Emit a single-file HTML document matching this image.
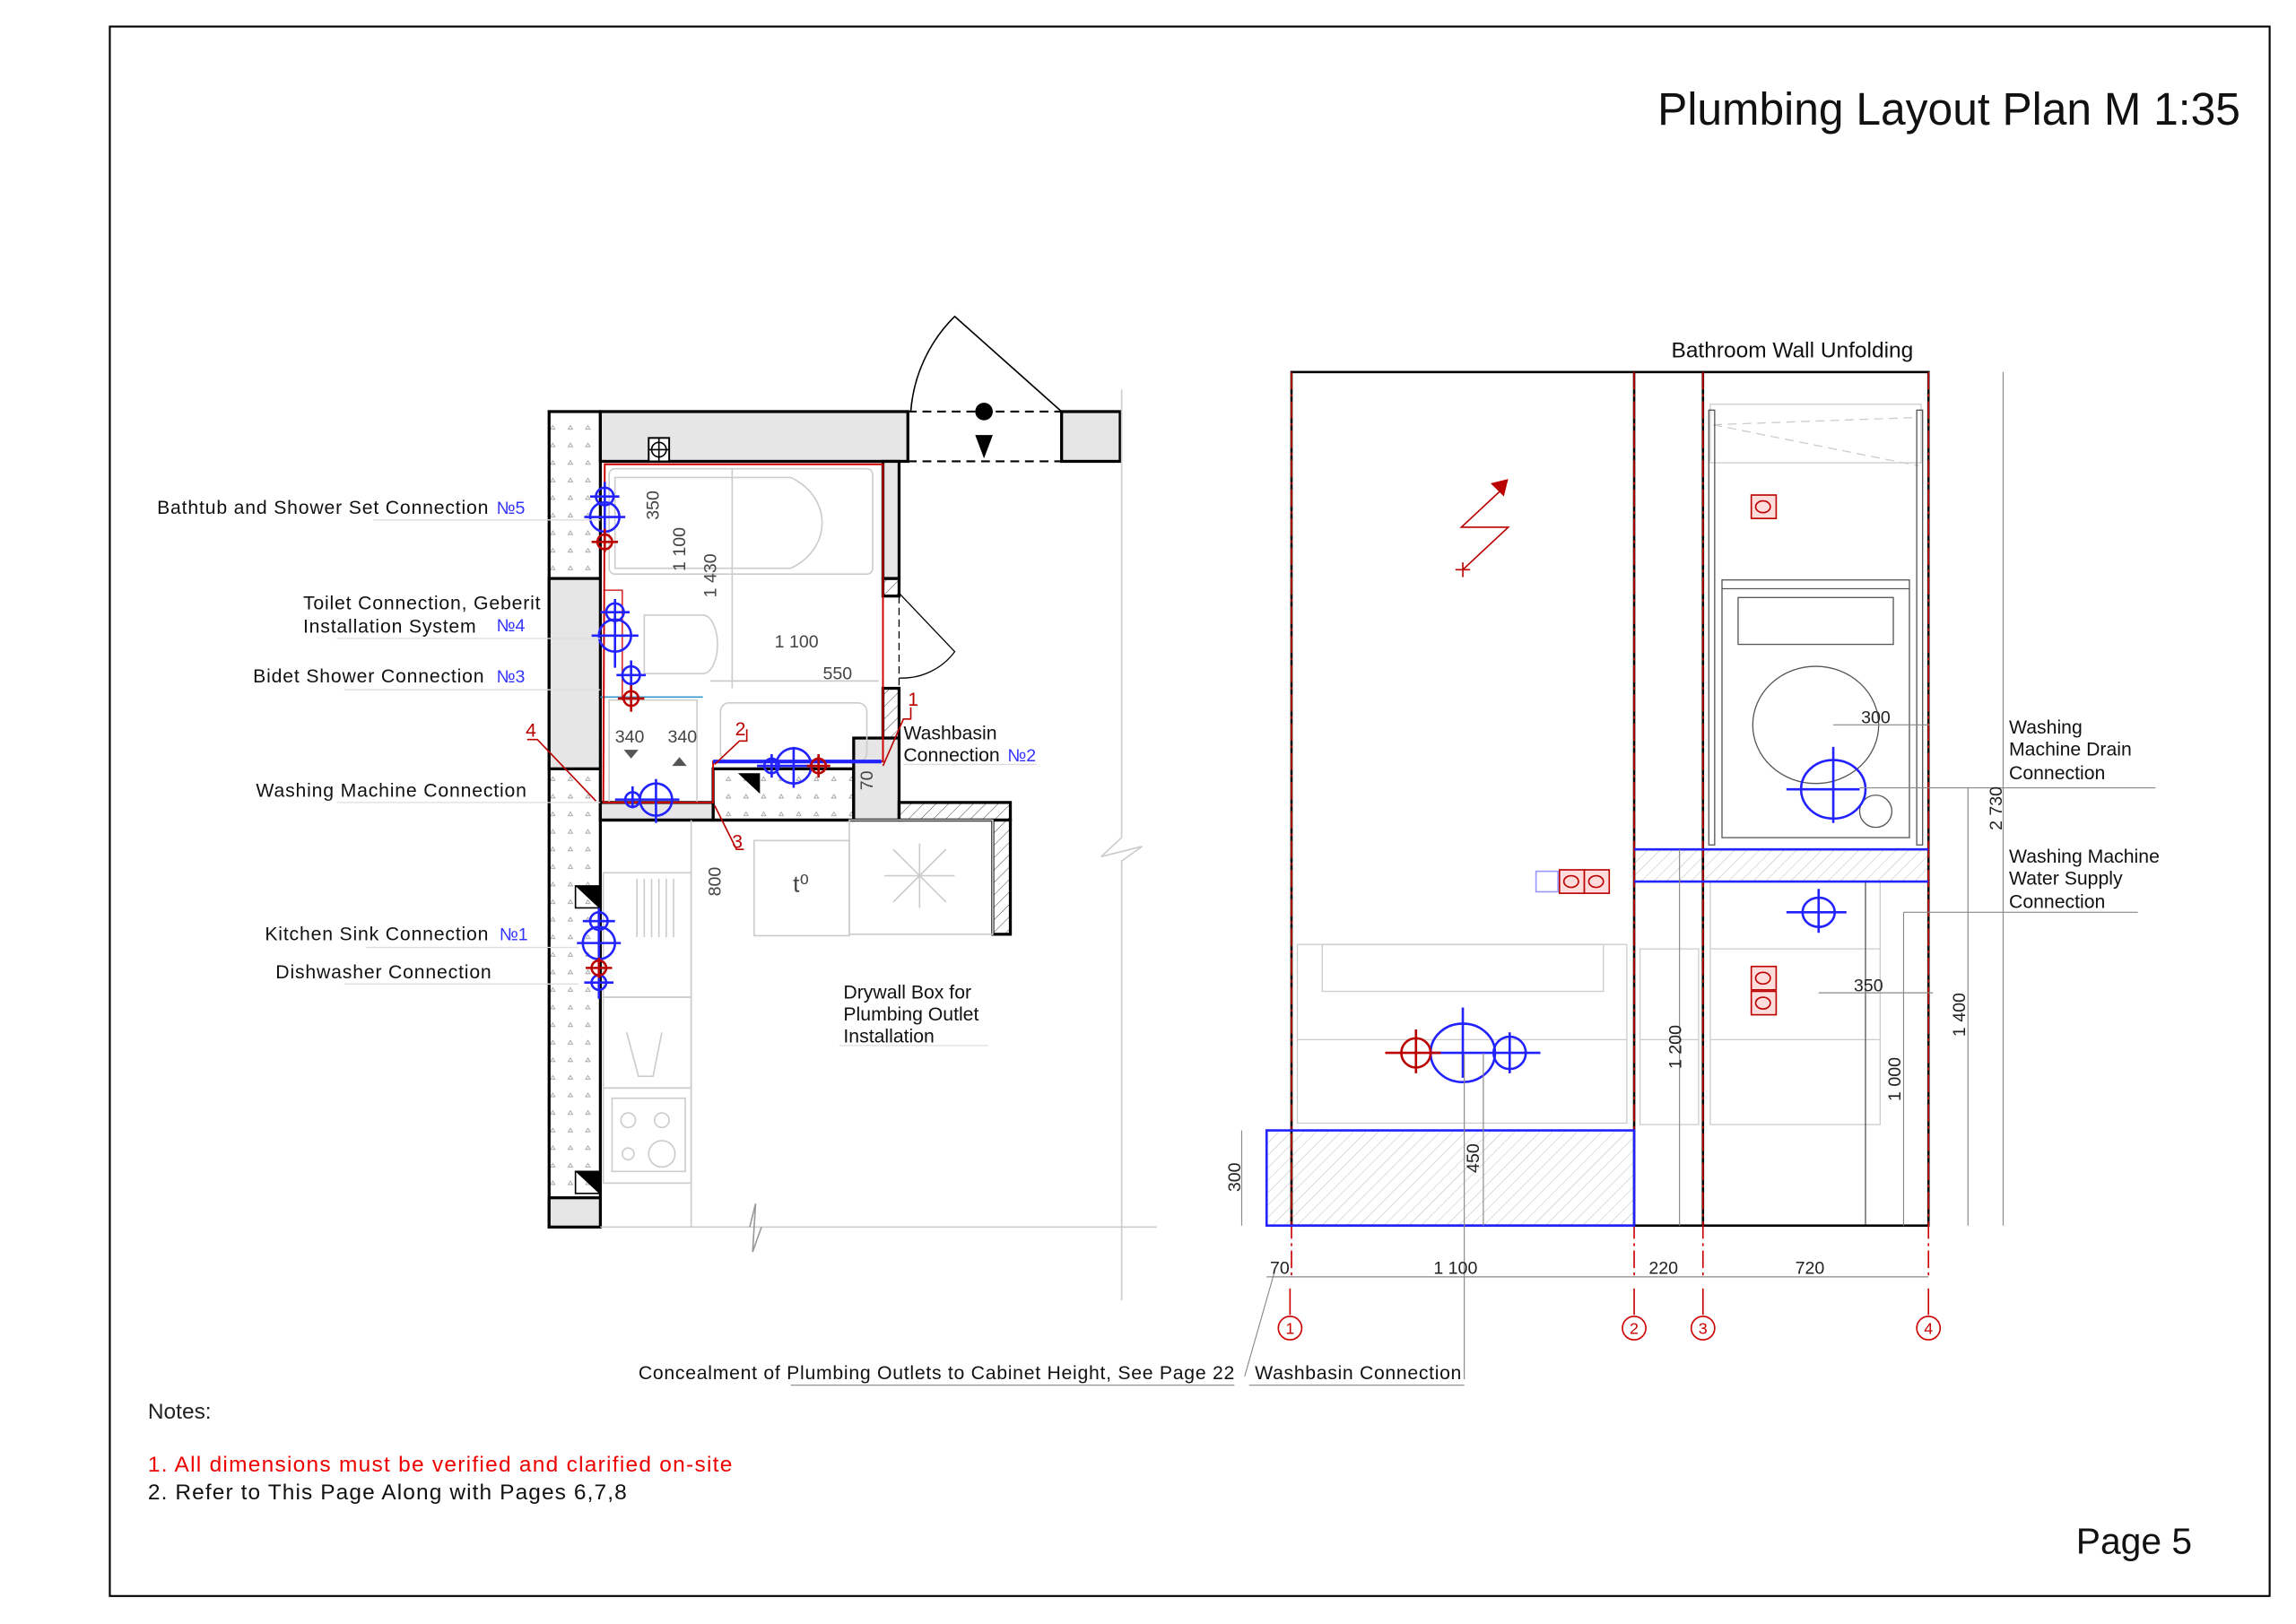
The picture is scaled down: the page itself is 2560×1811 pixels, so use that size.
<!DOCTYPE html>
<html><head><meta charset="utf-8"><style>
html,body{margin:0;padding:0;background:#fff;width:2560px;height:1811px;overflow:hidden}
svg{display:block}
text{font-family:"Liberation Sans","DejaVu Sans",sans-serif}
</style></head><body>
<svg width="2560" height="1811" viewBox="0 0 1568 1109" xmlns="http://www.w3.org/2000/svg">
<defs>
<pattern id="dots" width="12" height="12" patternUnits="userSpaceOnUse"><rect width="12" height="12" fill="#fff"/><path d="M4 5 l1.5 -2.5 l1.5 2.5z" fill="none" stroke="#999" stroke-width="0.5"/></pattern>
<pattern id="hatch" width="6" height="6" patternUnits="userSpaceOnUse" patternTransform="rotate(45)"><line x1="0" y1="0" x2="0" y2="6" stroke="#444" stroke-width="0.6"/></pattern>
<pattern id="hatchb" width="6" height="6" patternUnits="userSpaceOnUse" patternTransform="rotate(45)"><line x1="0" y1="0" x2="0" y2="6" stroke="#aab" stroke-width="0.5"/></pattern>
</defs>
<rect x="75" y="18" width="1475" height="1072" fill="none" stroke="#000" stroke-width="1.3"/>
<text x="1530" y="85" font-size="31" text-anchor="end" fill="#111" textLength="398" lengthAdjust="spacingAndGlyphs">Plumbing Layout Plan M 1:35</text>

<!-- ===== FLOOR PLAN ===== -->
<g stroke="#000" stroke-width="2">
<rect x="375" y="281" width="35" height="557" fill="url(#dots)"/>
<rect x="375" y="395" width="35" height="130" fill="#e6e6e6"/>
<rect x="375" y="818" width="35" height="20" fill="#e6e6e6"/>
<rect x="410" y="281" width="210" height="34" fill="#e6e6e6"/>
<rect x="603" y="315" width="11" height="80" fill="#e6e6e6"/>
<rect x="603" y="395" width="11" height="12" fill="url(#hatch)"/>
<rect x="603" y="470" width="11" height="34" fill="url(#hatch)"/>
<rect x="725" y="281" width="40" height="34" fill="#e6e6e6"/>
<rect x="487" y="525" width="96" height="35" fill="url(#dots)"/>
<rect x="583" y="504" width="31" height="56" fill="#e6e6e6"/>
<rect x="410" y="548" width="77" height="12" fill="#e6e6e6"/>
<rect x="614" y="548" width="76" height="12" fill="url(#hatch)"/>
<rect x="678" y="560" width="12" height="78" fill="url(#hatch)"/>
<line x1="410" y1="560" x2="678" y2="560"/>
</g>
<rect x="443" y="299" width="14" height="16" fill="#fff" stroke="#000" stroke-width="1.2"/>
<circle cx="450" cy="307" r="5" fill="none" stroke="#000"/><path d="M443 307h14M450 299v16" stroke="#000"/>
<!-- door top -->
<path d="M622 281 A102 102 0 0 1 652 216 L725 281" fill="none" stroke="#000" stroke-width="1"/>
<path d="M620 281H725M620 315H725" stroke="#000" stroke-width="1.3" stroke-dasharray="6,4"/>
<circle cx="672" cy="281" r="6" fill="#000"/><path d="M666 297h12l-6 16z" fill="#000"/>
<!-- side door -->
<path d="M603 407v63M614 407v63" stroke="#000" stroke-dasharray="5,3" stroke-width="0.8"/>
<path d="M614 405 L652 445 A45 45 0 0 1 614 463" fill="none" stroke="#000" stroke-width="0.8"/>
<!-- bath fixtures -->
<g fill="none" stroke="#ccc" stroke-width="1">
<path d="M420 326h120a40 35 0 0 1 0 62h-120z"/>
<rect x="416" y="320" width="180" height="72" rx="4"/>
<path d="M440 420h40a10 20 0 0 1 0 40h-40z"/>
<rect x="492" y="480" width="100" height="40" rx="6"/>
<rect x="416" y="478" width="60" height="70"/>
<path d="M410 476h70" stroke="#39c"/>
<line x1="500" y1="320" x2="500" y2="470"/><line x1="485" y1="465" x2="600" y2="465"/>
<rect x="412" y="596" width="60" height="85"/><rect x="412" y="681" width="60" height="62"/><rect x="412" y="743" width="60" height="65"/>
<rect x="418" y="750" width="50" height="50"/>
<circle cx="429" cy="765" r="5"/><circle cx="452" cy="765" r="5"/><circle cx="429" cy="788" r="4"/><circle cx="452" cy="788" r="9"/>
<path d="M428 705l8 30h10l6-30"/>
<rect x="515" y="574" width="65" height="65"/><rect x="580" y="560" width="98" height="78"/>
<path d="M610 580l36 36M646 580l-36 36M628 576v44M604 598h48"/>
<line x1="472" y1="560" x2="472" y2="838"/>
<line x1="410" y1="838" x2="790" y2="838"/>
<path d="M766 266V572L752 585L780 578L766 588V888"/>
</g>
<path d="M512 838 L516 822 L514 855 L520 838" fill="none" stroke="#999"/>
<g stroke="#ccc"><path d="M435 600v40M440 600v40M445 600v40M450 600v40M455 600v40M460 600v40"/></g>
<text x="547" y="609" font-size="16" fill="#444" text-anchor="middle">t⁰</text>
<path d="M393 605h16v15z" fill="#000"/><rect x="393" y="605" width="16" height="15" fill="none" stroke="#000"/>
<path d="M393 800h16v15z" fill="#000"/><rect x="393" y="800" width="16" height="15" fill="none" stroke="#000"/>
<path d="M504 528h15v14z" fill="#000"/>
<path d="M413 317H603V520H487V548H412Z" fill="none" stroke="#c00" stroke-width="1.2"/>
<path d="M412 403h13v75" fill="none" stroke="#c00" stroke-width="0.8"/>
<line x1="487" y1="520" x2="602" y2="520" stroke="#22f" stroke-width="2.5"/>
<g font-size="12" fill="#444">
<text transform="translate(450 345) rotate(-90)" text-anchor="middle">350</text>
<text transform="translate(468 375) rotate(-90)" text-anchor="middle">1 100</text>
<text transform="translate(489 393) rotate(-90)" text-anchor="middle">1 430</text>
<text x="544" y="442" text-anchor="middle">1 100</text>
<text x="572" y="464" text-anchor="middle">550</text>
<text x="430" y="507" text-anchor="middle">340</text><text x="466" y="507" text-anchor="middle">340</text>
<text transform="translate(596 533) rotate(-90)" text-anchor="middle">70</text>
<text transform="translate(492 602) rotate(-90)" text-anchor="middle">800</text>
</g>
<path d="M426 512h10l-5 6z M459 523h10l-5 -6z" fill="#555"/>
<g fill="none" stroke-width="1.6">
<g stroke="#22f">
<circle cx="413" cy="339" r="6"/><path d="M403 339h20M413 329v20"/>
<circle cx="413" cy="353" r="10"/><path d="M399 353h28M413 340v26"/>
<circle cx="420" cy="418" r="6"/><path d="M410 418h20M420 409v18"/>
<circle cx="420" cy="434" r="11"/><path d="M404 434h32M420 420v36"/>
<circle cx="431" cy="461" r="6"/><path d="M421 461h20M431 451v20"/>
<circle cx="432" cy="546" r="5"/><circle cx="448" cy="546" r="11"/><path d="M420 546h44M432 537v15M448 532v30"/>
<circle cx="527" cy="523" r="5"/><circle cx="542" cy="523" r="12"/><path d="M517 523h40M527 515v16M542 510v28"/>
<circle cx="409" cy="629" r="6"/><path d="M398 629h22M409 620v18"/>
<circle cx="409" cy="644" r="11"/><path d="M394 644h30M409 630v28"/>
<circle cx="409" cy="671" r="5"/><path d="M399 671h20M409 664v18"/>
</g>
<g stroke="#b00">
<circle cx="413" cy="370" r="5"/><path d="M404 370h18M413 361v16"/>
<circle cx="431" cy="477" r="5"/><path d="M422 477h18M431 468v18"/>
<circle cx="559" cy="523" r="5"/><path d="M551 523h16M559 515v16"/>
<circle cx="409" cy="661" r="5"/><path d="M400 661h18M409 654v14"/>
</g>
</g>
<g stroke="#b00" fill="none" stroke-width="1">
<path d="M622 483v8h-5l-14 32"/><path d="M510 498v8h-5l-17 16"/><path d="M508 580h-5l-15 -30"/><path d="M360 505h7l40 42"/>
</g>
<g fill="#b00" font-size="13"><text x="620" y="482">1</text><text x="502" y="502">2</text><text x="500" y="579">3</text><text x="359" y="503">4</text></g>
<g font-size="13" fill="#111" letter-spacing="0.5">
<text x="334" y="351" text-anchor="end">Bathtub and Shower Set Connection</text>
<text x="207" y="416">Toilet Connection, Geberit</text>
<text x="207" y="432">Installation System</text>
<text x="331" y="466" text-anchor="end">Bidet Shower Connection</text>
<text x="360" y="544" text-anchor="end">Washing Machine Connection</text>
<text x="334" y="642" text-anchor="end">Kitchen Sink Connection</text>
<text x="336" y="668" text-anchor="end">Dishwasher Connection</text>
</g>
<g font-size="12" fill="#33f"><text x="339" y="351">№5</text><text x="339" y="431">№4</text><text x="339" y="466">№3</text><text x="341" y="642">№1</text><text x="688" y="520">№2</text></g>
<g stroke="#ddd" stroke-width="0.8"><path d="M255 355H410M230 436H410M235 471H410M230 548H410M250 647H395M235 672H395M617 522H708M573 714H675"/></g>
<g font-size="13" fill="#111"><text x="617" y="505">Washbasin</text><text x="617" y="520">Connection</text>
<text x="576" y="682">Drywall Box for</text><text x="576" y="697">Plumbing Outlet</text><text x="576" y="712">Installation</text></g>

<!-- ===== ELEVATION ===== -->
<text x="1224" y="244" font-size="15" fill="#111" text-anchor="middle">Bathroom Wall Unfolding</text>
<rect x="865" y="772" width="251" height="65" fill="url(#hatchb)"/>
<rect x="1116" y="580" width="201" height="22" fill="url(#hatchb)"/>
<g fill="none" stroke="#ccc" stroke-width="0.8">
<rect x="886" y="645" width="225" height="122"/><rect x="903" y="645" width="192" height="32"/><path d="M886 710h225"/>
<rect x="1120" y="648" width="40" height="120"/><path d="M1120 710h40"/>
<rect x="1168" y="602" width="116" height="166"/><path d="M1168 648h116M1168 710h116"/>
<rect x="1168" y="276" width="144" height="40"/><path d="M1170 290L1310 285M1170 290L1310 318" stroke-dasharray="6,4"/>
</g>
<g fill="none" stroke="#555" stroke-width="0.8">
<rect x="1176" y="396" width="128" height="176"/><rect x="1187" y="408" width="106" height="32"/><path d="M1176 402h128"/>
<ellipse cx="1240" cy="495" rx="43" ry="40"/><circle cx="1281" cy="554" r="11"/>
<rect x="1167" y="280" width="4" height="297"/><rect x="1309" y="280" width="4" height="297"/>
<path d="M1274 602v235"/>
</g>
<g stroke="#000" stroke-width="1.6" fill="none">
<rect x="882" y="254" width="435" height="583"/><path d="M1116 254v583M1163 254v583"/>
</g>
<g stroke="#c00" stroke-width="1" stroke-dasharray="12,3,2,3"><path d="M882 254v620M1116 254v620M1163 254v620M1317 254v620"/></g>
<g stroke="#c00" stroke-width="1"><path d="M881 880v18M1116 880v18M1163 880v18M1317 880v18"/></g>
<g stroke="#22f" stroke-width="1.6" fill="none">
<path d="M865 772H1116V837H865Z"/><path d="M1116 580H1317M1116 602H1317"/>
</g>
<g fill="none" stroke-width="1.6">
<g stroke="#22f">
<ellipse cx="999" cy="719" rx="22" ry="20"/><path d="M977 719h75M999 688v48"/>
<circle cx="1031" cy="719" r="11"/><path d="M1031 705v28"/>
<ellipse cx="1252" cy="539" rx="22" ry="20"/><path d="M1220 539h50M1252 510v52"/>
<ellipse cx="1242" cy="623" rx="11" ry="10"/><path d="M1220 623h41M1242 607v30"/>
</g>
<g stroke="#b00"><circle cx="967" cy="719" r="10"/><path d="M946 719h38M967 703v30"/></g>
</g>
<path d="M994 389h10M999 384v10M999 389L1030 360H998L1028 332" fill="none" stroke="#b00"/>
<path d="M1018 330l12-3l-3 12z" fill="#b00"/>
<g fill="none" stroke="#b00"><rect x="1065" y="594" width="17" height="16" fill="#fdd"/><rect x="1082" y="594" width="17" height="16" fill="#fdd"/>
<rect x="1196" y="338" width="17" height="16" fill="#fdd"/><rect x="1196" y="660" width="17" height="16" fill="#fdd"/><rect x="1196" y="677" width="17" height="16" fill="#fdd"/>
<ellipse cx="1073" cy="602" rx="5" ry="4"/><ellipse cx="1090" cy="602" rx="5" ry="4"/><ellipse cx="1204" cy="346" rx="5" ry="4"/><ellipse cx="1204" cy="668" rx="5" ry="4"/><ellipse cx="1204" cy="685" rx="5" ry="4"/></g>
<rect x="1049" y="595" width="15" height="14" fill="none" stroke="#99f"/>
<g stroke="#888" stroke-width="0.7" fill="none">
<path d="M848 772v65M1368 254v583M1344 538v299M1300 623v214M1147 580v257M1013 719v118M865 872H1317"/>
<path d="M1252 495H1318M1242 678H1320M1300 623H1460M1270 538H1472"/>
<path d="M870 870 L850 940M1000 720v222M853 946H1000M540 946H843"/>
</g>
<g font-size="12" fill="#222">
<text x="1281" y="494" text-anchor="middle">300</text><text x="1276" y="677" text-anchor="middle">350</text>
<text transform="translate(1367 552) rotate(-90)" text-anchor="middle">2 730</text>
<text transform="translate(1342 693) rotate(-90)" text-anchor="middle">1 400</text>
<text transform="translate(1298 737) rotate(-90)" text-anchor="middle">1 000</text>
<text transform="translate(1148 715) rotate(-90)" text-anchor="middle">1 200</text>
<text transform="translate(1010 791) rotate(-90)" text-anchor="middle">450</text>
<text transform="translate(847 804) rotate(-90)" text-anchor="middle">300</text>
<text x="874" y="870" text-anchor="middle">70</text><text x="994" y="870" text-anchor="middle">1 100</text>
<text x="1136" y="870" text-anchor="middle">220</text><text x="1236" y="870" text-anchor="middle">720</text>
</g>
<g stroke="#c00" fill="none"><circle cx="881" cy="907" r="8"/><circle cx="1116" cy="907" r="8"/><circle cx="1163" cy="907" r="8"/><circle cx="1317" cy="907" r="8"/></g>
<g font-size="11" fill="#c00" text-anchor="middle"><text x="881" y="911">1</text><text x="1116" y="911">2</text><text x="1163" y="911">3</text><text x="1317" y="911">4</text></g>
<g font-size="13" fill="#111">
<text x="1372" y="501">Washing</text><text x="1372" y="516">Machine Drain</text><text x="1372" y="532">Connection</text>
<text x="1372" y="589">Washing Machine</text><text x="1372" y="604">Water Supply</text><text x="1372" y="620">Connection</text>
<text x="843" y="942" text-anchor="end" textLength="407" lengthAdjust="spacing">Concealment of Plumbing Outlets to Cabinet Height, See Page 22</text>
<text x="857" y="942" textLength="141" lengthAdjust="spacing">Washbasin Connection</text>
</g>
<text x="101" y="969" font-size="15" fill="#222">Notes:</text>
<text x="101" y="1005" font-size="15" fill="#e00" textLength="399" lengthAdjust="spacing">1. All dimensions must be verified and clarified on-site</text>
<text x="101" y="1024" font-size="15" fill="#111" textLength="327" lengthAdjust="spacing">2. Refer to This Page Along with Pages 6,7,8</text>
<text x="1497" y="1061" font-size="25" fill="#111" text-anchor="end">Page 5</text>
</svg>
</body></html>
